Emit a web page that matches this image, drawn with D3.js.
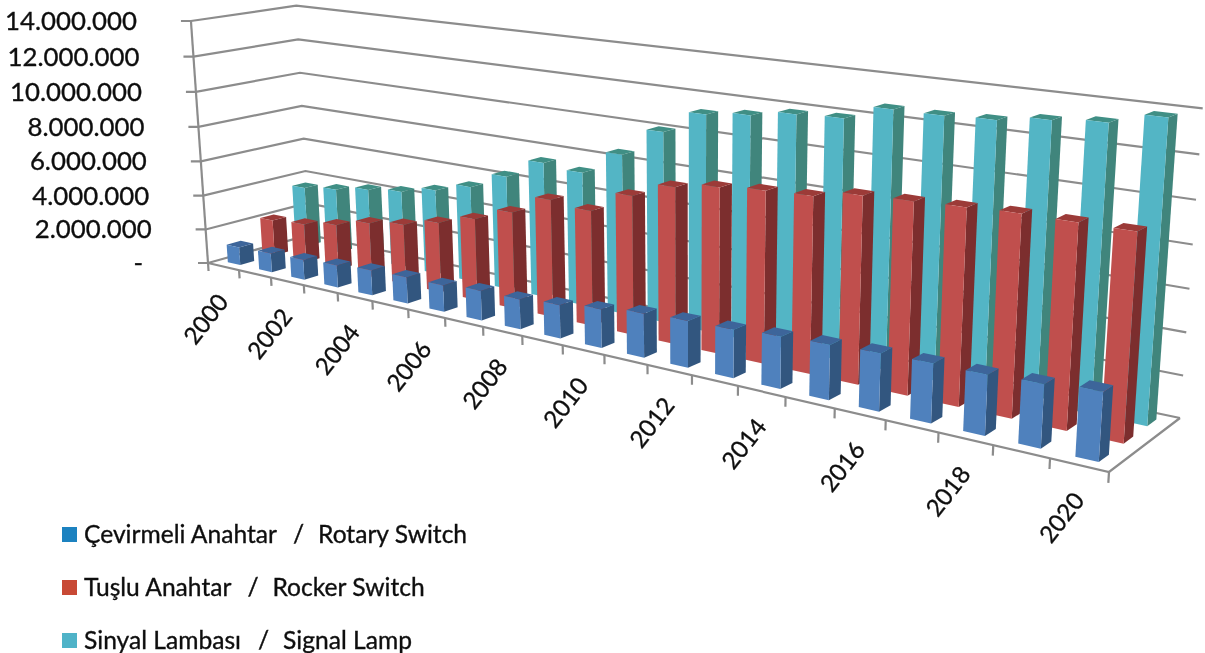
<!DOCTYPE html>
<html><head><meta charset="utf-8">
<script src="https://cdn.jsdelivr.net/npm/d3@7/dist/d3.min.js"></script>
<style>html,body{margin:0;padding:0;background:#fff;overflow:hidden}svg{display:block}text{font-family:Lato,"Open Sans",sans-serif;fill:#111;stroke:#111;stroke-width:0.35px}</style>
</head><body><svg id="c" width="1205" height="653"><defs><filter id="soft" x="0" y="0" width="1205" height="653" filterUnits="userSpaceOnUse"><feGaussianBlur stdDeviation="0.75"/></filter></defs></svg>
<script>
const years = d3.range(2000, 2021);
const yTicks = [0,2000000,4000000,6000000,8000000,10000000,12000000,14000000];
const yTickLabels = ["-","2.000.000","4.000.000","6.000.000","8.000.000","10.000.000","12.000.000","14.000.000"];
const xTickLabels = [2000,2002,2004,2006,2008,2010,2012,2014,2016,2018,2020];
const rotary = [1050000,1100000,1150000,1250000,1400000,1450000,1450000,1600000,1600000,1750000,2000000,2250000,2350000,2400000,2550000,2650000,2750000,2800000,2800000,2900000,3100000];
const rocker = [2100000,2250000,2600000,3100000,3400000,3900000,4500000,5250000,6300000,6100000,7250000,8050000,8400000,8600000,8700000,9100000,9200000,9300000,9400000,9400000,9400000];
const lamp = [3540000,3800000,4150000,4400000,4840000,5400000,6340000,7440000,7250000,8550000,10050000,11250000,11500000,11850000,11950000,12680000,12680000,12780000,13080000,13270000,13800000];
const seriesTR = ["Çevirmeli Anahtar","Tuşlu Anahtar","Sinyal Lambası"];
const seriesEN = ["Rotary Switch","Rocker Switch","Signal Lamp"];
const seriesData = [rotary, rocker, lamp];
const faceColors = [
 {front:"#4f81bd",side:"#33567f",top:"#3c659a",key:"#1f82c0"},
 {front:"#c0504d",side:"#7c2e2d",top:"#9c3b39",key:"#c84a35"},
 {front:"#52b5c5",side:"#41857b",top:"#3f8f85",key:"#4fb3c8"}];

// Perspective frame: floor corners and the vertical vanishing point
const fl=[208,263], fr=[1109,472], br=[1180,418], bl=[309,235], flTop=[191,21], vp=[690,7100];
function homography(p0,p1,p2,p3){ // (0,0),(1,0),(1,1),(0,1)
  const dx1=p1[0]-p2[0],dx2=p3[0]-p2[0],sx=p0[0]-p1[0]+p2[0]-p3[0];
  const dy1=p1[1]-p2[1],dy2=p3[1]-p2[1],sy=p0[1]-p1[1]+p2[1]-p3[1];
  const den=dx1*dy2-dx2*dy1;
  const g=(sx*dy2-dx2*sy)/den,h=(dx1*sy-sx*dy1)/den;
  return [p1[0]-p0[0]+g*p1[0],p3[0]-p0[0]+h*p3[0],p0[0],p1[1]-p0[1]+g*p1[1],p3[1]-p0[1]+h*p3[1],p0[1],g,h,1];
}
const H=homography(fl,fr,br,bl);
const k=(fl[1]-flTop[1])/(flTop[1]-vp[1]);
const zScale=d3.scaleLinear().domain([0,14000000]).range([0,1]);
function project(u,v,val){
  const z=zScale(val)*k;
  const X=H[0]*u+H[1]*v+H[2]+z*vp[0],Y=H[3]*u+H[4]*v+H[5]+z*vp[1],W=H[6]*u+H[7]*v+H[8]+z;
  return [X/W,Y/W];
}
const uBand=d3.scaleBand().domain(years).range([0,1]).paddingInner(0.6).paddingOuter(0.3);
const vBand=d3.scaleBand().domain([0,1,2]).range([0,1]).paddingInner(0.6).paddingOuter(0.3);
const svg=d3.select("#c");
const root=svg.append("g").attr("filter","url(#soft)");
root.append("rect").attr("width",1205).attr("height",653).attr("fill","#fff");
const chart=root.append("g");
const line=d3.line();
const gridColor="#8c8c8c";
const grid=chart.append("g").attr("fill","none").attr("stroke",gridColor).attr("stroke-width",2.2);
yTicks.forEach(t=>{
  const a=project(0,0,t);
  grid.append("path").attr("d",line([[a[0]-10,a[1]],a,project(0,1,t),project(1,1,t)]));
});
grid.append("path").attr("d",line([project(0,0,0),project(0,0,14000000)]));
grid.append("path").attr("d",line([project(0,0,0),project(1,0,0),project(1,1,0)]));
d3.range(0,22).forEach(i=>{
  const u=i/21;
  grid.append("path").attr("d",line([project(u,0,0),project(u,0,-480000)]));
});
const bars=chart.append("g");
[2,1,0].forEach(s=>{
  const c=faceColors[s];
  years.forEach((yr,i)=>{
    const val=seriesData[s][i];
    const u0=uBand(yr),u1=u0+uBand.bandwidth(),v0=vBand(s),v1=v0+vBand.bandwidth();
    const poly=(pts,col)=>bars.append("polygon").attr("points",pts.map(p=>p.join(",")).join(" ")).attr("fill",col);
    poly([project(u1,v0,0),project(u1,v1,0),project(u1,v1,val),project(u1,v0,val)],c.side);
    poly([project(u0,v0,val),project(u1,v0,val),project(u1,v1,val),project(u0,v1,val)],c.top);
    poly([project(u0,v0,0),project(u1,v0,0),project(u1,v0,val),project(u0,v0,val)],c.front);
  });
});
// value axis labels
yTicks.forEach((t,i)=>{
  const p=project(0,0,t);
  root.append("text").attr("x",i===0?143:p[0]-54).attr("y",p[1]).attr("dy","0.35em").attr("text-anchor","end")
    .attr("font-size",25.8).text(yTickLabels[i]);
});
// category labels
xTickLabels.forEach(yr=>{
  const p=project((yr-2000+0.5)/21,0,0);
  root.append("text").attr("transform",`translate(${p[0]-17.5},${p[1]+52.5}) rotate(-52)`).attr("text-anchor","middle").attr("dy","0.35em")
    .attr("font-size",24).text(yr);
});
// legend
[0,1,2].forEach(s=>{
  const y=534.5+s*53;
  root.append("rect").attr("x",62).attr("y",y-7.5).attr("width",15).attr("height",15).attr("fill",faceColors[s].key);
  const t=root.append("text").attr("x",84).attr("y",y).attr("dy","0.35em").attr("font-size",24.6);
  t.append("tspan").text(seriesTR[s]);
  t.append("tspan").attr("dx",17).text("/");
  t.append("tspan").attr("dx",14).text(seriesEN[s]);
});
</script></body></html>
